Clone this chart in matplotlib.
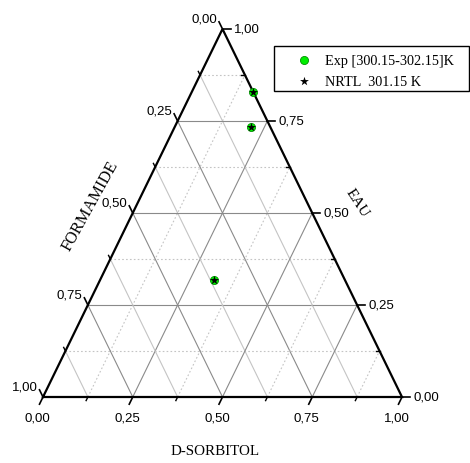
import matplotlib
matplotlib.use('Agg')
import matplotlib.pyplot as plt
import numpy as np
from matplotlib.patches import Rectangle

# compositions (mass fractions)
exp_sorbitol = [0.171, 0.212, 0.318]
exp_eau = [0.829, 0.734, 0.318]
exp_formamide = [0.000, 0.054, 0.364]

nrtl_sorbitol = [0.171, 0.212, 0.318]
nrtl_eau = [0.829, 0.734, 0.318]
nrtl_formamide = [0.000, 0.054, 0.364]

tick_values = [0.0, 0.25, 0.50, 0.75, 1.0]
tick_labels = ['0,00', '0,25', '0,50', '0,75', '1,00']
minor_values = [0.125, 0.375, 0.625, 0.875]

# pixel size of the triangle, used to turn pixel offsets into data offsets
W_PX, H_PX = 359.0, 368.0


def to_xy(s, e):
    s = np.asarray(s)
    e = np.asarray(e)
    return s + e / 2.0, e


def px(dx, dy):
    return dx / W_PX, dy / H_PX


def unit(dx, dy):
    n = np.hypot(dx, dy)
    return dx / n, dy / n


fig = plt.figure(figsize=(4.7, 4.64), dpi=100)
ax = fig.add_axes([43 / 470, (464 - 398) / 464, W_PX / 470, H_PX / 464])
ax.set_xlim(0, 1)
ax.set_ylim(0, 1)
ax.axis('off')

major_c = '#8a8a8a'
minor_c = '#c4c4c4'
dot = (0, (1.5, 2))

for v in np.arange(0.125, 1.0, 0.125):
    major = abs(v / 0.25 - round(v / 0.25)) < 1e-6
    col = major_c if major else minor_c
    # constant EAU (horizontal)
    ax.plot([v / 2, 1 - v / 2], [v, v], color=col, lw=0.8,
            ls='-' if major else dot, zorder=1)
    # constant D-SORBITOL
    ax.plot([v, v + (1 - v) / 2], [0, 1 - v], color=col, lw=0.8,
            ls='-' if major else dot, zorder=1)
    # constant FORMAMIDE
    ax.plot([1 - v, (1 - v) / 2], [0, 1 - v], color=col, lw=0.8,
            ls='-', zorder=1)

# frame
ax.plot([0, 1, 0.5, 0], [0, 0, 1, 0], color='black', lw=1.6, zorder=3,
        solid_joinstyle='miter', clip_on=False)

bot_out = unit(-179.5, -368)
left_out = unit(-179.5, 368)

tick_font = dict(family='Liberation Sans', fontsize=9.5)

for v, lab in zip(tick_values, tick_labels):
    # bottom axis : D-SORBITOL
    x0, y0 = to_xy(v, 0)
    dx, dy = px(bot_out[0] * 8, bot_out[1] * 8)
    ax.plot([x0, x0 + dx], [y0, y0 + dy], color='black', lw=1.2, clip_on=False)
    lx, ly = px(-2, -7)
    ax.text(x0 + dx + lx, y0 + dy + ly, lab, ha='center', va='top',
            **tick_font)
    # right axis : EAU
    x0, y0 = to_xy(1 - v, v)
    dx, dy = px(8, 0)
    ax.plot([x0, x0 + dx], [y0, y0], color='black', lw=1.2, clip_on=False)
    ax.text(x0 + px(11, 0)[0], y0, lab, ha='left', va='center', **tick_font)
    # left axis : FORMAMIDE
    x0, y0 = to_xy(0, 1 - v)
    dx, dy = px(left_out[0] * 8, left_out[1] * 8)
    ax.plot([x0, x0 + dx], [y0, y0 + dy], color='black', lw=1.2, clip_on=False)
    ox, oy = px(-2, -3)
    ax.text(x0 + dx + ox, y0 + dy + oy, lab, ha='right', va='bottom',
            **tick_font)

for v in minor_values:
    x0, y0 = to_xy(v, 0)
    dx, dy = px(bot_out[0] * 4, bot_out[1] * 4)
    ax.plot([x0, x0 + dx], [y0, y0 + dy], color='black', lw=1.0, clip_on=False)
    x0, y0 = to_xy(1 - v, v)
    dx, dy = px(-4, 0)
    ax.plot([x0, x0 + dx], [y0, y0], color='black', lw=1.0, clip_on=False)
    x0, y0 = to_xy(0, 1 - v)
    dx, dy = px(left_out[0] * 4, left_out[1] * 4)
    ax.plot([x0, x0 + dx], [y0, y0 + dy], color='black', lw=1.0, clip_on=False)

ax.text(0.48, px(0, -54)[1], 'D-SORBITOL', ha='center', va='center',
        family='Liberation Serif', fontsize=10.8)
ax.text(px(90 - 43, 0)[0], px(0, 398 - 206)[1], 'FORMAMIDE', ha='center',
        va='center', rotation=61, family='Liberation Serif', fontsize=11.8)
ax.text(px(357 - 43, 0)[0], px(0, 398 - 203)[1], 'EAU', ha='center',
        va='center', rotation=-57, family='Liberation Serif', fontsize=11)

ex, ey = to_xy(exp_sorbitol, exp_eau)
nx, ny = to_xy(nrtl_sorbitol, nrtl_eau)
ax.scatter(ex, ey, s=34, color='#00ee00', edgecolors='#009000', lw=0.6,
           zorder=4, clip_on=False, label='Exp [300.15-302.15]K')
ax.scatter(nx, ny, s=45, marker='*', color='black', lw=0, zorder=5,
           clip_on=False, label='NRTL  301.15 K')

# legend box drawn separately so its padding can match the original
fig.patches.append(Rectangle((274 / 470, 1 - 92 / 464), 195 / 470, 45 / 464,
                             transform=fig.transFigure, fill=False,
                             edgecolor='black', lw=1.0))
leg = fig.legend(loc='upper left', bbox_to_anchor=(274 / 470, 1 - 49 / 464),
                 frameon=False, prop={'family': 'Liberation Serif', 'size': 10.3},
                 borderpad=0.4, handlelength=3.4, handletextpad=-0.25,
                 labelspacing=0.55, borderaxespad=0)

fig.savefig('out.png', dpi=100)
